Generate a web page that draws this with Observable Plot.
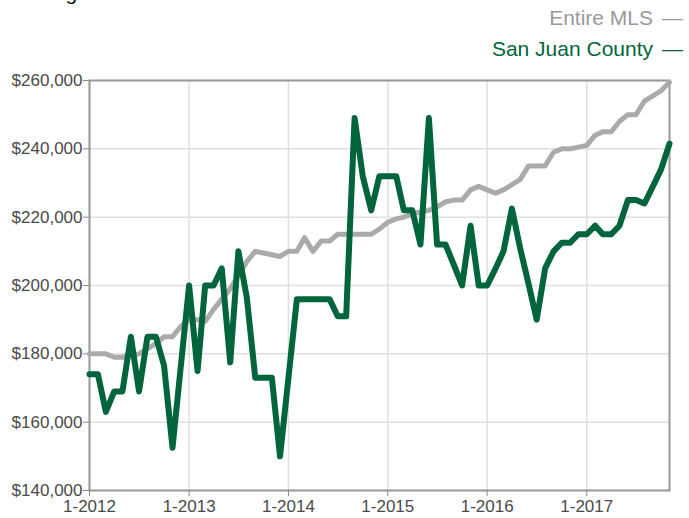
<!DOCTYPE html>
<html>
<head>
<meta charset="utf-8">
<script src="https://cdn.jsdelivr.net/npm/d3@7"></script>
<script src="https://cdn.jsdelivr.net/npm/@observablehq/plot@0.6"></script>
<style>
  html, body { margin: 0; padding: 0; background: #fff; }
  body { width: 689px; height: 518px; position: relative; overflow: hidden; font-family: "Liberation Sans", Arial, Helvetica, sans-serif; }
  #title { position: absolute; left: 13px; top: -18px; font-size: 21px; line-height: 21px; color: #111; white-space: nowrap; }
  #legend { position: absolute; right: 6px; top: 2px; font-size: 21px; line-height: 31px; text-align: right; white-space: nowrap; }
  #legend .dash { display: inline-block; margin-left: 9px; }
  #chart { position: absolute; left: 0; top: 60px; }
</style>
</head>
<body>
<div id="title">Rolling 12-Month Calculation</div>
<div id="legend">
  <div style="color:#999999">Entire MLS<span class="dash">—</span></div>
  <div style="color:#00643c">San Juan County<span class="dash">—</span></div>
</div>
<div id="chart"></div>
<script>
const months = [
  "2012-01","2012-02","2012-03","2012-04","2012-05","2012-06","2012-07","2012-08","2012-09","2012-10","2012-11","2012-12",
  "2013-01","2013-02","2013-03","2013-04","2013-05","2013-06","2013-07","2013-08","2013-09","2013-10","2013-11","2013-12",
  "2014-01","2014-02","2014-03","2014-04","2014-05","2014-06","2014-07","2014-08","2014-09","2014-10","2014-11","2014-12",
  "2015-01","2015-02","2015-03","2015-04","2015-05","2015-06","2015-07","2015-08","2015-09","2015-10","2015-11","2015-12",
  "2016-01","2016-02","2016-03","2016-04","2016-05","2016-06","2016-07","2016-08","2016-09","2016-10","2016-11","2016-12",
  "2017-01","2017-02","2017-03","2017-04","2017-05","2017-06","2017-07","2017-08","2017-09","2017-10","2017-11"
];
const entireMLS = [
  180000,180000,180000,179000,179000,179500,180000,181500,183000,185000,185000,188000,
  190000,190000,189500,193000,196000,199000,203000,207000,210000,209500,209000,208500,
  210000,210000,214000,210000,213000,213000,215000,215000,215000,215000,215000,216500,
  218500,219500,220000,221000,221500,222000,223000,224500,225000,225000,228000,229000,
  228000,227000,228000,229500,231000,235000,235000,235000,239000,240000,240000,240500,
  241000,244000,245000,245000,248000,250000,250000,254000,255500,257000,259500
];
const sanJuanCounty = [
  174000,174000,163000,169000,169000,185000,169000,185000,185000,176500,152500,176000,
  200000,175000,200000,200000,205000,177500,210000,196500,173000,173000,173000,150000,
  173000,196000,196000,196000,196000,196000,191000,191000,249000,232000,222000,232000,
  232000,232000,222000,222000,212000,249000,212000,212000,206000,200000,217500,200000,
  200000,205000,210000,222500,211000,200500,190000,205000,210000,212500,212500,215000,
  215000,217500,215000,215000,217500,225000,225000,224000,229000,234000,241500
];
const yTicks = [140000,160000,180000,200000,220000,240000,260000];
const xTickMonths = ["2012-01","2013-01","2014-01","2015-01","2016-01","2017-01"];

const parse = d3.utcParse("%Y-%m");
const data = months.map((m, i) => ({date: parse(m), mls: entireMLS[i], sj: sanJuanCounty[i]}));
const xTicks = xTickMonths.map(parse);
const fmtMoney = d3.format(",");

const chart = Plot.plot({
  width: 689,
  height: 458,
  marginTop: 20,
  marginLeft: 89,
  marginRight: 20,
  marginBottom: 28,
  style: {fontFamily: "'Liberation Sans', Arial, Helvetica, sans-serif", fontSize: "17px", color: "#4a4a4a", background: "white"},
  x: {type: "utc", domain: [parse(months[0]), parse(months[months.length - 1])]},
  y: {domain: [140000, 260000]},
  marks: [
    Plot.gridY(yTicks, {stroke: "#e0e0e0", strokeOpacity: 1, strokeWidth: 1.5}),
    Plot.gridX(xTicks, {stroke: "#e0e0e0", strokeOpacity: 1, strokeWidth: 1.5}),
    Plot.frame({stroke: "#999", strokeWidth: 2}),
    Plot.axisY(yTicks, {tickSize: 6, tickPadding: 1, stroke: "#888", tickFormat: d => "$" + fmtMoney(d)}),
    Plot.axisX(xTicks, {tickSize: 6, tickPadding: 3, stroke: "#888", tickFormat: d => `${d.getUTCMonth() + 1}-${d.getUTCFullYear()}`}),
    Plot.line(data, {x: "date", y: "mls", stroke: "#aaaaaa", strokeWidth: 5}),
    Plot.line(data, {x: "date", y: "sj", stroke: "#00643c", strokeWidth: 6})
  ]
});
document.getElementById("chart").appendChild(chart);
</script>
</body>
</html>
